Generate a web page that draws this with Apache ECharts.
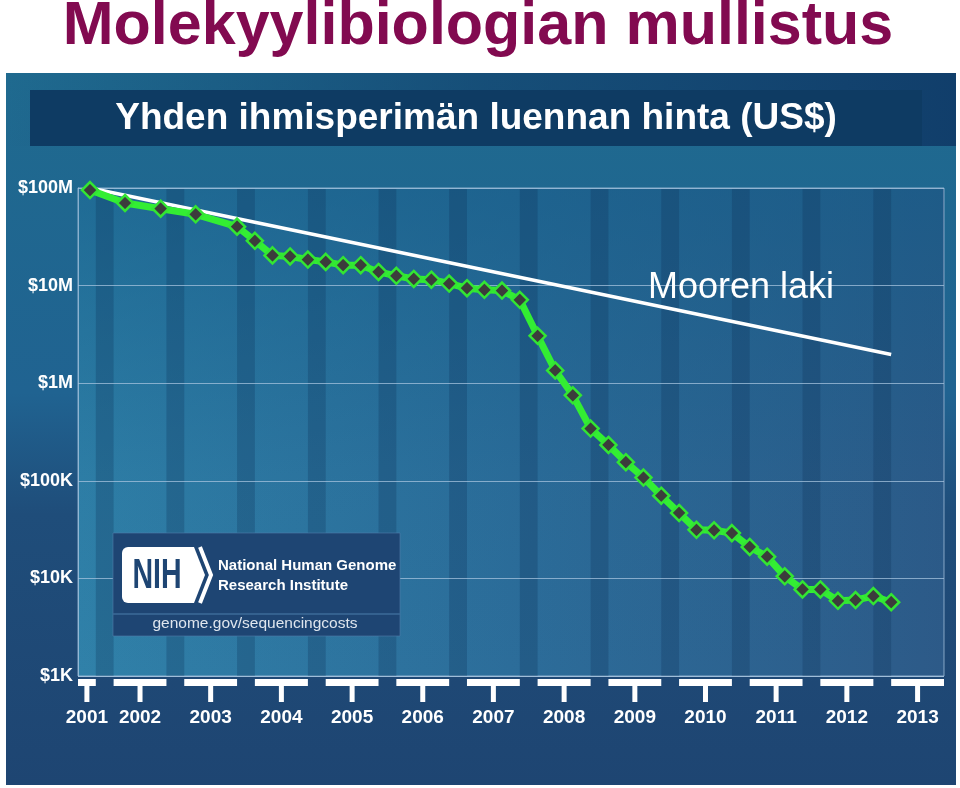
<!DOCTYPE html>
<html><head><meta charset="utf-8">
<script src="https://cdn.jsdelivr.net/npm/echarts@6/dist/echarts.min.js"></script>
<style>html,body{margin:0;padding:0;background:#fff}#main{width:960px;height:788px}</style>
</head><body><div id="main"></div>
<script>
// ---------- data ----------
const chartTitle = 'Molekyylibiologian mullistus';
const chartSubtitle = 'Yhden ihmisperimän luennan hinta (US$)';
const mooreLabel = 'Mooren laki';
const logoLine1 = 'National Human Genome';
const logoLine2 = 'Research Institute';
const logoUrl = 'genome.gov/sequencingcosts';
const logoMark = 'NIH';

const dates = [
  '2001-09-01','2002-03-01','2002-09-01','2003-03-01','2003-10-01',
  '2004-01-01','2004-04-01','2004-07-01','2004-10-01',
  '2005-01-01','2005-04-01','2005-07-01','2005-10-01',
  '2006-01-01','2006-04-01','2006-07-01','2006-10-01',
  '2007-01-01','2007-04-01','2007-07-01','2007-10-01',
  '2008-01-01','2008-04-01','2008-07-01','2008-10-01',
  '2009-01-01','2009-04-01','2009-07-01','2009-10-01',
  '2010-01-01','2010-04-01','2010-07-01','2010-10-01',
  '2011-01-01','2011-04-01','2011-07-01','2011-10-01',
  '2012-01-01','2012-04-01','2012-07-01','2012-10-01',
  '2013-01-01'
];
const costs = [
  95300000, 70200000, 61400000, 53800000, 40200000,
  28800000, 20400000, 19900000, 18500000,
  17500000, 16200000, 16200000, 13800000,
  12600000, 11700000, 11500000, 10500000,
  9400000, 9050000, 8900000, 7150000,
  3060000, 1350000, 752000, 343000,
  233000, 155000, 108000, 70300,
  46800, 31500, 31100, 29100,
  21000, 16700, 10500, 7700,
  7700, 5900, 6000, 6600,
  5700
];
const mooreDates = ['2001-09-01', '2013-01-01'];
const mooreCosts = [100000000, 1970000];

const years = [2001,2002,2003,2004,2005,2006,2007,2008,2009,2010,2011,2012,2013];
const yearLabels = ['2001','2002','2003','2004','2005','2006','2007','2008','2009','2010','2011','2012','2013'];
const yTickLabels = ['$1K','$10K','$100K','$1M','$10M','$100M'];
const xMin = '2001-07-01';
const xMax = '2013-10-01';
const yMin = 1000;
const yMax = 100000000;

// ---------- chart ----------
const FONT = '"Liberation Sans", Arial, Helvetica, sans-serif';
const chart = echarts.init(document.getElementById('main'));
const P = s => echarts.time.parse(s);
const gridLineColor = 'rgba(165,195,222,0.75)';

function txt(text, x, y, size, fill, weight, align, extra) {
  return Object.assign({
    type: 'text', z: 30, silent: true,
    style: {
      text: text, x: x, y: y, fill: fill, fontSize: size, fontWeight: weight || 'normal', fontFamily: FONT,
      align: align || 'center', verticalAlign: 'middle', textAlign: align || 'center', textVerticalAlign: 'middle'
    }
  }, extra || {});
}

const option = {
  animation: false,
  backgroundColor: '#ffffff',
  grid: {
    left: 78, right: 16, top: 188, bottom: 112,
    show: true,
    borderColor: gridLineColor, borderWidth: 1,
    backgroundColor: new echarts.graphic.LinearGradient(0, 0, 1, 0, [
      {offset: 0, color: '#3081a9'},
      {offset: 0.5, color: '#2c6d9a'},
      {offset: 1, color: '#2d5a88'}
    ])
  },
  xAxis: {
    type: 'time', min: xMin, max: xMax, z: 3,
    axisLabel: {show: false}, axisTick: {show: false},
    axisLine: {show: false}, splitLine: {show: false}
  },
  yAxis: {
    type: 'log', logBase: 10, min: yMin, max: yMax, z: 3,
    axisLine: {show: true, lineStyle: {color: gridLineColor, width: 1}},
    axisTick: {show: false},
    splitLine: {show: true, lineStyle: {color: gridLineColor, width: 1}},
    axisLabel: {
      color: '#ffffff', fontWeight: 'bold', fontSize: 18, fontFamily: FONT, margin: 5,
      formatter: v => yTickLabels[Math.round(Math.log10(v)) - 3] || ''
    }
  },
  series: [
    { // vertical shading of the plot area
      type: 'custom', z: 1, silent: true,
      data: [[xMin, yMin]],
      renderItem: (params, api) => {
        const cs = params.coordSys;
        return {
          type: 'rect',
          shape: {x: cs.x, y: cs.y + 1, width: cs.width - 1, height: cs.height},
          style: {fill: new echarts.graphic.LinearGradient(0, 0, 0, 1, [
            {offset: 0, color: 'rgba(20,92,135,0.6)'},
            {offset: 0.6, color: 'rgba(20,92,135,0.1)'},
            {offset: 1, color: 'rgba(20,92,135,0)'}
          ])}
        };
      }
    },
    { // darker quarter stripes (Oct - Jan)
      type: 'custom', z: 1, silent: true,
      data: years.map(y => [y + '-10-01', yMin]),
      renderItem: (params, api) => {
        const cs = params.coordSys;
        const yr = years[params.dataIndex];
        let x0 = api.coord([P(yr + '-10-01'), yMin])[0];
        let x1 = api.coord([P((yr + 1) + '-01-01'), yMin])[0];
        x0 = Math.max(x0, cs.x); x1 = Math.min(x1, cs.x + cs.width - 1);
        if (x1 <= x0) return null;
        return {
          type: 'rect',
          shape: {x: x0, y: cs.y + 1, width: x1 - x0, height: cs.height - 1},
          style: {fill: 'rgba(12,45,85,0.26)'}
        };
      }
    },
    { // white year bars, ticks and year labels below the plot
      type: 'custom', z: 4, silent: true, clip: false,
      data: years.map(y => [y + '-01-01', yMin]),
      renderItem: (params, api) => {
        const cs = params.coordSys;
        const i = params.dataIndex;
        const yr = years[i];
        let x0 = api.coord([P(yr + '-01-01'), yMin])[0];
        let x1 = api.coord([P(yr + '-10-01'), yMin])[0];
        x0 = Math.max(x0, cs.x); x1 = Math.min(x1, cs.x + cs.width);
        const base = cs.y + cs.height;
        const cx = (x0 + x1) / 2;
        return {
          type: 'group',
          children: [
            {type: 'rect', shape: {x: x0, y: base + 3, width: x1 - x0, height: 7}, style: {fill: '#ffffff'}},
            {type: 'rect', shape: {x: cx - 2.5, y: base + 9, width: 5, height: 17}, style: {fill: '#ffffff'}},
            {type: 'text', style: {
              text: yearLabels[i], x: cx, y: base + 42,
              fill: '#ffffff', fontSize: 19, fontWeight: 'bold', fontFamily: FONT,
              align: 'center', verticalAlign: 'middle', textAlign: 'center', textVerticalAlign: 'middle'
            }}
          ]
        };
      }
    },
    { // Moore's law
      type: 'line', z: 4, silent: true,
      data: mooreDates.map((d, i) => [d, mooreCosts[i]]),
      symbol: 'none',
      lineStyle: {color: '#ffffff', width: 3.5}
    },
    { // cost per genome
      type: 'line', z: 5,
      data: dates.map((d, i) => [d, costs[i]]),
      symbol: 'diamond', symbolSize: 16,
      lineStyle: {color: '#33ee33', width: 7},
      itemStyle: {color: '#3c3c3c', borderColor: '#33e533', borderWidth: 2.5}
    }
  ],
  graphic: [
    { // slide panel
      type: 'rect', z: -10, silent: true,
      shape: {x: 6, y: 73, width: 950, height: 712},
      style: {fill: new echarts.graphic.LinearGradient(0, 0, 0, 1, [
        {offset: 0, color: '#1f6a8f'},
        {offset: 0.45, color: '#206391'},
        {offset: 0.62, color: '#1f4d7a'},
        {offset: 1, color: '#1e4572'}
      ])}
    },
    {
      type: 'rect', z: -9, silent: true,
      shape: {x: 6, y: 73, width: 950, height: 73},
      style: {fill: new echarts.graphic.LinearGradient(0, 0, 1, 0, [
        {offset: 0, color: 'rgba(16,60,105,0)'},
        {offset: 0.5, color: 'rgba(16,60,105,0.6)'},
        {offset: 1, color: 'rgba(16,60,105,0.95)'}
      ])}
    },
    { // header bar
      type: 'rect', z: -8, silent: true,
      shape: {x: 30, y: 90, width: 892, height: 56},
      style: {fill: '#0e3b63'}
    },
    txt(chartSubtitle, 476, 119, 37, '#ffffff', 'bold'),
    txt(chartTitle, 478, 27, 61, '#820a50', 'bold'),
    txt(mooreLabel, 741, 288, 36, '#ffffff', 'normal'),
    // NIH logo box
    {type: 'rect', z: 20, silent: true, shape: {x: 113, y: 533, width: 287, height: 103},
     style: {fill: '#1e4573', stroke: 'rgba(80,125,170,0.6)', lineWidth: 1}},
    {type: 'line', z: 21, silent: true, shape: {x1: 113, y1: 614, x2: 400, y2: 614},
     style: {stroke: '#3d6b98', lineWidth: 1.5}},
    {type: 'rect', z: 21, silent: true, shape: {x: 122, y: 547, width: 66, height: 56, r: [6, 0, 0, 6]},
     style: {fill: '#ffffff'}},
    {type: 'polygon', z: 21, silent: true, shape: {points: [[186, 547], [194, 547], [205, 575], [194, 603], [186, 603]]},
     style: {fill: '#ffffff'}},
    {type: 'polyline', z: 21, silent: true, shape: {points: [[200, 547], [211, 575], [200, 603]]},
     style: {stroke: '#ffffff', lineWidth: 4, fill: null}},
    txt(logoMark, 0, 0, 42, '#1e4573', 'bold', 'center', {x: 157, y: 576, scaleX: 0.68}),
    txt(logoLine1, 218, 566, 15, '#ffffff', 'bold', 'left'),
    txt(logoLine2, 218, 586, 15, '#ffffff', 'bold', 'left'),
    txt(logoUrl, 255, 624, 15.5, '#dfe6ee', 'normal', 'center')
  ]
};
chart.setOption(option);
</script>
</body></html>
